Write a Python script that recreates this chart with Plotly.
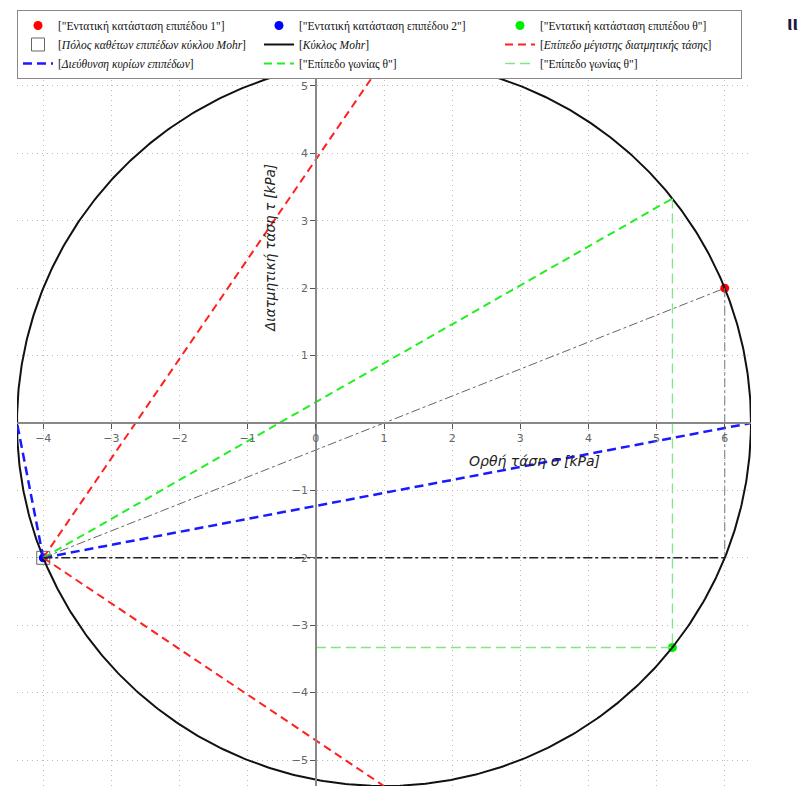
import numpy as np
import plotly.graph_objects as go

# ---- data (stress state, kPa) ----
sigma_x = 6.0
sigma_y = -4.0
tau_xy = 2.0
theta_deg = 30.0

x_ticks = [-4, -3, -2, -1, 0, 1, 2, 3, 4, 5, 6]
y_ticks = [-5, -4, -3, -2, -1, 1, 2, 3, 4, 5]

legend_names = [
    '["Εντατική κατάσταση επιπέδου 1"]',
    '["Εντατική κατάσταση επιπέδου 2"]',
    '["Εντατική κατάσταση επιπέδου θ"]',
    '[<i>Πόλος καθέτων επιπέδων κύκλου Mohr</i>]',
    '[<i>Κύκλος Mohr</i>]',
    '[<i>Επίπεδο μέγιστης διατμητικής τάσης</i>]',
    '[<i>Διεύθυνση κυρίων επιπέδων</i>]',
    '["Επίπεδο γωνίας θ"]',
    '["Επίπεδο γωνίας θ"]',
]

# ---- Mohr circle geometry derived from the stress state ----
C = (sigma_x + sigma_y) / 2.0
R = np.hypot((sigma_x - sigma_y) / 2.0, tau_xy)
pole = (sigma_y, -tau_xy)
p1 = (sigma_x, tau_xy)
p2 = (sigma_y, -tau_xy)

th = np.radians(theta_deg)
d = np.array([np.cos(th), np.sin(th)])
rel = np.array([pole[0] - C, pole[1]])
t = -2 * rel.dot(d)
q = np.array(pole) + t * d  # intersection of theta plane with circle
p_theta = (q[0], -q[1])

ang = np.linspace(0, 2 * np.pi, 721)
circ_x = C + R * np.cos(ang)
circ_y = R * np.sin(ang)

fig = go.Figure()

fig.add_trace(go.Scatter(x=[p1[0]], y=[p1[1]], mode="markers",
                         marker=dict(color="#ff0000", size=9), name=legend_names[0]))
fig.add_trace(go.Scatter(x=[p2[0]], y=[p2[1]], mode="markers",
                         marker=dict(color="#0000ff", size=9), name=legend_names[1]))
fig.add_trace(go.Scatter(x=[p_theta[0]], y=[p_theta[1]], mode="markers",
                         marker=dict(color="#00ee00", size=9), name=legend_names[2]))
fig.add_trace(go.Scatter(x=[pole[0]], y=[pole[1]], mode="markers",
                         marker=dict(symbol="square-open", color="#666666", size=13,
                                     line=dict(width=1)), name=legend_names[3]))
fig.add_trace(go.Scatter(x=circ_x, y=circ_y, mode="lines",
                         line=dict(color="#111111", width=2), name=legend_names[4]))
fig.add_trace(go.Scatter(x=[pole[0], C, None, pole[0], C],
                         y=[pole[1], R, None, pole[1], -R], mode="lines",
                         line=dict(color="#ff2020", width=2, dash="8px,5px"),
                         name=legend_names[5]))
fig.add_trace(go.Scatter(x=[pole[0], C - R, None, pole[0], C + R],
                         y=[pole[1], 0, None, pole[1], 0], mode="lines",
                         line=dict(color="#1a1aff", width=2.5, dash="9px,5px"),
                         name=legend_names[6]))
fig.add_trace(go.Scatter(x=[pole[0], q[0]], y=[pole[1], q[1]], mode="lines",
                         line=dict(color="#22ee22", width=2, dash="8px,5px"),
                         name=legend_names[7]))
fig.add_trace(go.Scatter(x=[q[0], p_theta[0], None, 0, p_theta[0]],
                         y=[q[1], p_theta[1], None, p_theta[1], p_theta[1]], mode="lines",
                         line=dict(color="#7fe87f", width=1.3, dash="10px,5px"),
                         name=legend_names[8]))
# construction lines (no legend)
fig.add_trace(go.Scatter(x=[pole[0], p1[0]], y=[pole[1], p1[1]], mode="lines",
                         line=dict(color="#666666", width=1, dash="dashdot"),
                         showlegend=False))
fig.add_trace(go.Scatter(x=[p1[0], p1[0]], y=[p1[1], -p1[1]], mode="lines",
                         line=dict(color="#777777", width=1, dash="dashdot"),
                         showlegend=False))
fig.add_trace(go.Scatter(x=[pole[0], p1[0]], y=[pole[1], pole[1]], mode="lines",
                         line=dict(color="#222222", width=1.5, dash="dashdot"),
                         showlegend=False))

def fmt(v):
    return str(v).replace("-", "\u2212")

y_pos = (0 - (C - R)) / (2 * R)

fig.update_layout(
    width=803, height=778,
    margin=dict(l=9, r=60, t=52, b=0),
    paper_bgcolor="white", plot_bgcolor="white",
    xaxis=dict(range=[C - R, C + R], anchor="free", position=0.5,
               showline=True, linecolor="#888888", linewidth=1.5,
               ticks="outside", ticklen=5, tickcolor="#555555",
               tickvals=x_ticks, ticktext=[fmt(v) for v in x_ticks],
               tickfont=dict(family="DejaVu Sans", size=11, color="#666666"),
               showgrid=True, gridcolor="#bbbbbb", griddash="1px,4px", gridwidth=1,
               zeroline=False),
    yaxis=dict(range=[-R, R], anchor="free", position=y_pos,
               showline=True, linecolor="#888888", linewidth=1.5,
               ticks="outside", ticklen=5, tickcolor="#555555",
               tickvals=y_ticks, ticktext=[fmt(v) for v in y_ticks],
               tickfont=dict(family="DejaVu Sans", size=11, color="#666666"),
               showgrid=True, gridcolor="#bbbbbb", griddash="1px,4px", gridwidth=1,
               zeroline=False),
    legend=dict(orientation="h", x=0.0, xanchor="left", y=1 + 50 / 726, yanchor="top",
                bgcolor="white", bordercolor="#888888", borderwidth=1,
                font=dict(family="Liberation Serif", size=11.5, color="#111111"),
                entrywidth=196, entrywidthmode="pixels", tracegroupgap=0,
                itemwidth=30),
    showlegend=True,
    annotations=[
        dict(text="<i>Ορθή τάση σ [kPa]</i>", xref="paper", yref="paper",
             x=(526 - 9) / 734, y=(778 - 453) / 726, xanchor="center", yanchor="middle",
             showarrow=False,
             font=dict(family="DejaVu Sans", size=14, color="#222222")),
        dict(text="<i>Διατμητική τάση τ [kPa]</i>", xref="paper", yref="paper",
             x=(262 - 9) / 734, y=(778 - 240) / 726, xanchor="center", yanchor="middle",
             showarrow=False, textangle=-90,
             font=dict(family="DejaVu Sans", size=13.5, color="#222222")),
        dict(text="<b>ιι</b>", xref="paper", yref="paper",
             x=(784 - 9) / 734, y=1 + (52 - 15) / 726, xanchor="center", yanchor="middle",
             showarrow=False,
             font=dict(family="Liberation Sans", size=20, color="#1a1a40")),
    ],
)

fig.write_html("out.html")
